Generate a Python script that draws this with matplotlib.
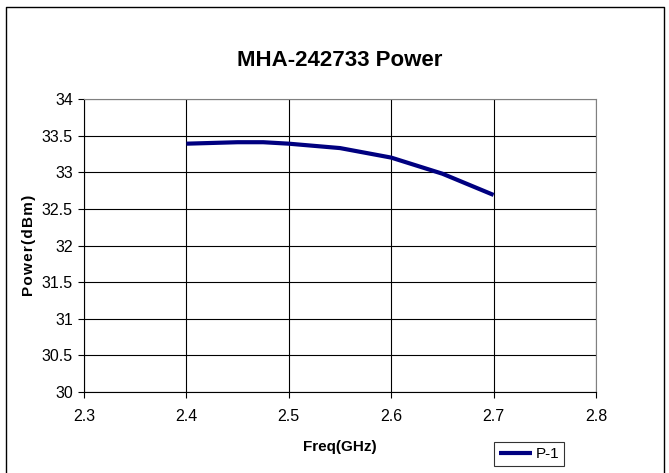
import matplotlib
matplotlib.use("Agg")
import matplotlib.pyplot as plt
from matplotlib.lines import Line2D

freq = [2.4, 2.45, 2.475, 2.5, 2.55, 2.6, 2.65, 2.7]
power = [33.39, 33.41, 33.41, 33.39, 33.33, 33.20, 32.98, 32.69]
xticks = [2.3, 2.4, 2.5, 2.6, 2.7, 2.8]
yticks = [30, 30.5, 31, 31.5, 32, 32.5, 33, 33.5, 34]

plt.rcParams['font.family'] = ['Liberation Sans', 'DejaVu Sans']

fig = plt.figure(figsize=(6.69, 4.73), dpi=100)
ax = fig.add_axes([84/669, 1-392/473, (596-84)/669, (392-99)/473])

ax.plot(freq, power, color='#000080', lw=3, label='P-1', solid_capstyle='butt')
ax.set_xlim(2.3, 2.8)
ax.set_ylim(30, 34)
ax.set_xticks(xticks)
ax.set_yticks(yticks)
ax.set_xticklabels([f"{t:g}" for t in xticks])
ax.set_yticklabels([f"{t:g}" for t in yticks])
ax.grid(True, color='black', lw=0.8)
ax.set_axisbelow(True)
for s in ['top', 'right']:
    ax.spines[s].set_color('#808080')
for s in ['left', 'bottom']:
    ax.spines[s].set_color('black')
ax.tick_params(axis='both', direction='out', length=4, labelsize=11.5, width=0.8)
ax.tick_params(axis='x', pad=8)
ax.tick_params(axis='y', pad=4)

fig.text(0.5 * (84 + 596) / 669, 1 - 60/473, 'MHA-242733 Power', ha='center', va='center',
         fontsize=16, fontweight='bold')
ax.set_xlabel('Freq(GHz)', fontsize=11, fontweight='bold', labelpad=12)
hs = '\u200a'
ax.set_ylabel(hs.join('Power(dBm)'), fontsize=11, fontweight='bold', labelpad=4)

leg = ax.legend(loc='center', bbox_to_anchor=((529 - 84) / (596 - 84), (392 - 454) / (392 - 99)),
                frameon=True, fancybox=False, edgecolor='black', fontsize=11,
                handlelength=2.2, handletextpad=0.2, borderpad=0.3, borderaxespad=0)
leg.get_frame().set_linewidth(0.8)

x0, x1, y0, y1 = 6/669, 664/669, 1 - 7/473, 0
fig.add_artist(Line2D([x0, x0, x1, x1], [y1, y0, y0, y1], transform=fig.transFigure,
                      color='black', lw=1))

fig.savefig('out.png', dpi=100)
